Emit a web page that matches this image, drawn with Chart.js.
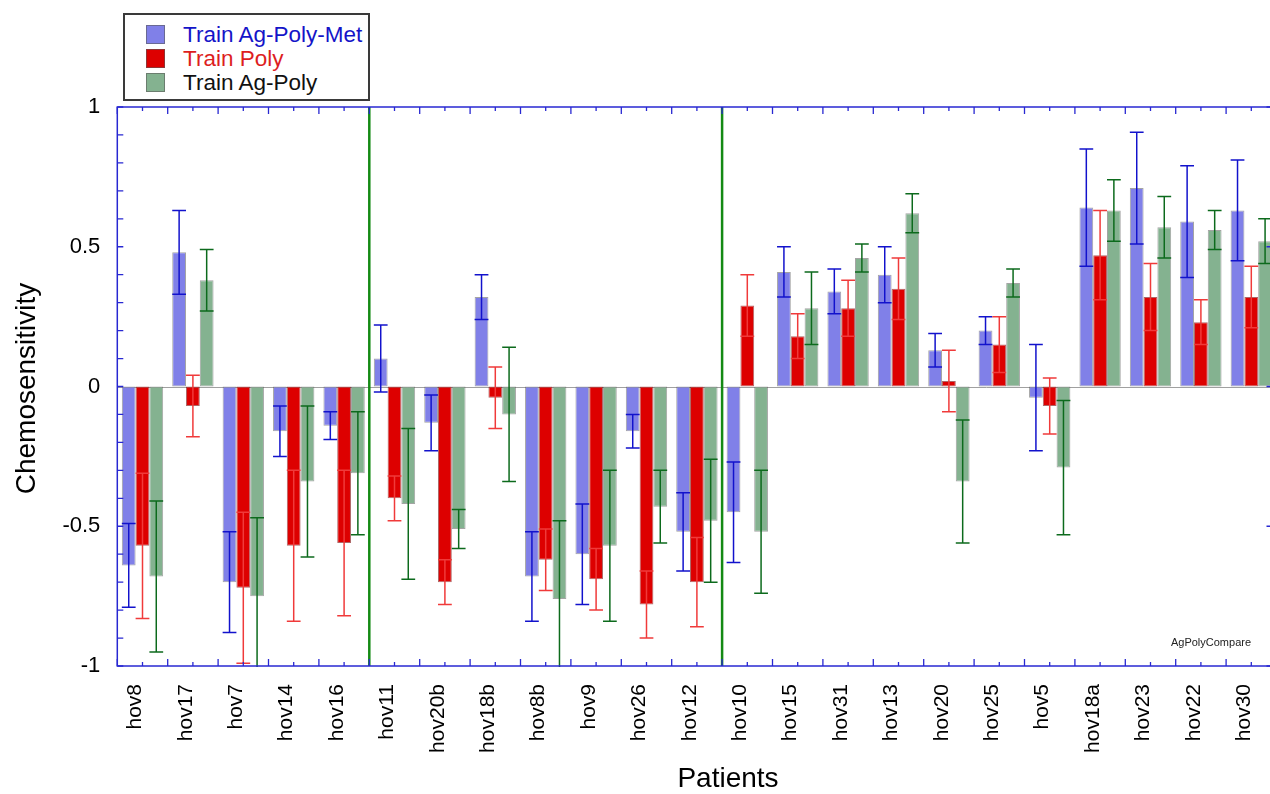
<!DOCTYPE html>
<html>
<head>
<meta charset="utf-8">
<title>Chemosensitivity by patient</title>
<script src="https://cdn.jsdelivr.net/npm/chart.js@4/dist/chart.umd.min.js"></script>
<style>
  html, body { margin: 0; padding: 0; background: #fff; overflow: hidden; }
  #wrap { position: relative; width: 1270px; height: 794px; overflow: hidden; }
  #c { position: absolute; left: 0; top: 0; }
  #legend {
    position: absolute; left: 123px; top: 13px; width: 243px; height: 84px;
    border: 2px solid #3a3a3a; background: #fff;
    font-family: "Liberation Sans", Arial, sans-serif; font-size: 22.5px;
  }
  .item { position: absolute; left: 21px; height: 24px; line-height: 24px; white-space: nowrap; }
  .sw { position: absolute; left: 0; top: 2px; width: 19px; height: 19px; box-sizing: border-box; border: 1px solid rgba(90,90,90,0.6); }
  .lbl { position: absolute; left: 37px; top: 0; }
</style>
</head>
<body>
<div id="wrap">
  <canvas id="c" width="1282" height="794"></canvas>
  <div id="legend">
    <div class="item" style="top:8px"><span class="sw" style="background:#8080e8"></span><span class="lbl" style="color:#1414c8">Train Ag-Poly-Met</span></div>
    <div class="item" style="top:32px"><span class="sw" style="background:#dd0000"></span><span class="lbl" style="color:#dd1e1e">Train Poly</span></div>
    <div class="item" style="top:56px"><span class="sw" style="background:#84b290"></span><span class="lbl" style="color:#111">Train Ag-Poly</span></div>
  </div>
</div>
<script>
// Patients, in plotting order
const patients = ['hov8','hov17','hov7','hov14','hov16','hov11','hov20b','hov18b','hov8b','hov9','hov26','hov12',
                  'hov10','hov15','hov31','hov13','hov20','hov25','hov5','hov18a','hov23','hov22','hov30'];

// Mean chemosensitivity and error per training set
const agPolyMet    = [-0.64, 0.48, -0.70, -0.16, -0.14, 0.10, -0.13, 0.32, -0.68, -0.60, -0.16, -0.52,
                      -0.45, 0.41, 0.34, 0.40, 0.13, 0.20, -0.04, 0.64, 0.71, 0.59, 0.63];
const agPolyMetErr = [0.15, 0.15, 0.18, 0.09, 0.05, 0.12, 0.10, 0.08, 0.16, 0.18, 0.06, 0.14,
                      0.18, 0.09, 0.08, 0.10, 0.06, 0.05, 0.19, 0.21, 0.20, 0.20, 0.18];

const poly         = [-0.57, -0.07, -0.72, -0.57, -0.56, -0.40, -0.70, -0.04, -0.62, -0.69, -0.78, -0.70,
                      0.29, 0.18, 0.28, 0.35, 0.02, 0.15, -0.07, 0.47, 0.32, 0.23, 0.32];
const polyErr      = [0.26, 0.11, 0.27, 0.27, 0.26, 0.08, 0.08, 0.11, 0.11, 0.11, 0.12, 0.16,
                      0.11, 0.08, 0.10, 0.11, 0.11, 0.10, 0.10, 0.16, 0.12, 0.08, 0.11];

const agPoly       = [-0.68, 0.38, -0.75, -0.34, -0.31, -0.42, -0.51, -0.10, -0.76, -0.57, -0.43, -0.48,
                      -0.52, 0.28, 0.46, 0.62, -0.34, 0.37, -0.29, 0.63, 0.57, 0.56, 0.52];
const agPolyErr    = [0.27, 0.11, 0.28, 0.27, 0.22, 0.27, 0.07, 0.24, 0.28, 0.27, 0.13, 0.22,
                      0.22, 0.13, 0.05, 0.07, 0.22, 0.05, 0.24, 0.11, 0.11, 0.07, 0.08];

// Group separators (index of the first patient after each divider)
const dividers = [5, 12];

const yTicks = [-1, -0.5, 0, 0.5, 1];

const FONT = '"Liberation Sans", Arial, sans-serif';
const AXIS_BLUE = '#2828d2';

const errorSets = [
  { err: agPolyMetErr, color: '#1212cc' },
  { err: polyErr,      color: '#f03a3a' },
  { err: agPolyErr,    color: '#0c6a1c' }
];

// Zero line behind the bars
const zeroLine = {
  id: 'zeroLine',
  beforeDatasetsDraw(chart) {
    const { ctx, chartArea: a, scales: { y } } = chart;
    const y0 = Math.round(y.getPixelForValue(0)) + 0.5;
    ctx.save();
    ctx.strokeStyle = '#a0a0a0';
    ctx.lineWidth = 1;
    ctx.beginPath();
    ctx.moveTo(a.left, y0);
    ctx.lineTo(a.right, y0);
    ctx.stroke();
    ctx.restore();
  }
};

// Error bars with caps, one per bar
const errorBars = {
  id: 'errorBars',
  afterDatasetsDraw(chart) {
    const { ctx, chartArea: a, scales: { y } } = chart;
    ctx.save();
    ctx.beginPath();
    ctx.rect(a.left, a.top - 1, a.right - a.left, a.bottom - a.top + 2);
    ctx.clip();
    chart.data.datasets.forEach((ds, i) => {
      const meta = chart.getDatasetMeta(i);
      const set = errorSets[i];
      ctx.strokeStyle = set.color;
      ctx.lineWidth = 1.5;
      meta.data.forEach((bar, j) => {
        const v = ds.data[j], e = set.err[j];
        const yHi = y.getPixelForValue(v + e);
        const yLo = y.getPixelForValue(v - e);
        const half = bar.width / 2;
        ctx.beginPath();
        ctx.moveTo(bar.x, yHi);
        ctx.lineTo(bar.x, yLo);
        ctx.moveTo(bar.x - half, yHi);
        ctx.lineTo(bar.x + half, yHi);
        ctx.moveTo(bar.x - half, yLo);
        ctx.lineTo(bar.x + half, yLo);
        ctx.stroke();
      });
    });
    ctx.restore();
  }
};

// Frame, inward ticks, group dividers, titles and the figure tag
const frame = {
  id: 'frame',
  afterDraw(chart) {
    const { ctx, chartArea: a, scales: { x, y } } = chart;
    const n = patients.length;
    const catW = (a.right - a.left) / n;
    ctx.save();

    // group dividers
    ctx.strokeStyle = '#148a14';
    ctx.lineWidth = 2.5;
    dividers.forEach(k => {
      const xx = a.left + k * catW;
      ctx.beginPath();
      ctx.moveTo(xx, a.top);
      ctx.lineTo(xx, a.bottom);
      ctx.stroke();
    });

    // axis box
    ctx.strokeStyle = AXIS_BLUE;
    ctx.lineWidth = 1.5;
    ctx.strokeRect(a.left, a.top, a.right - a.left, a.bottom - a.top);

    // vertical-axis ticks every 0.1
    ctx.lineWidth = 1.3;
    ctx.beginPath();
    for (let t = -10; t <= 10; t++) {
      const yy = y.getPixelForValue(t / 10);
      ctx.moveTo(a.left, yy); ctx.lineTo(a.left + 6, yy);
      const len = (t % 5 === 0) ? 10 : 5;
      ctx.moveTo(a.right, yy); ctx.lineTo(a.right - len, yy);
    }
    // horizontal-axis ticks every half category
    for (let k = 0; k <= 2 * n; k++) {
      const xx = a.left + k * catW / 2;
      const len = (k % 2 === 0) ? 7 : 4;
      ctx.moveTo(xx, a.top); ctx.lineTo(xx, a.top + len);
      ctx.moveTo(xx, a.bottom); ctx.lineTo(xx, a.bottom - len);
    }
    ctx.stroke();

    // axis titles
    ctx.fillStyle = '#000';
    ctx.textAlign = 'center';
    ctx.textBaseline = 'middle';
    ctx.font = '28px ' + FONT;
    ctx.fillText('Patients', 728, 779);
    ctx.save();
    ctx.translate(27, (a.top + a.bottom) / 2 + 2);
    ctx.rotate(-Math.PI / 2);
    ctx.fillText('Chemosensitivity', 0, 0);
    ctx.restore();

    // figure tag
    ctx.font = '11px ' + FONT;
    ctx.fillStyle = '#222';
    ctx.fillText('AgPolyCompare', 1211, 643);
    ctx.restore();
  }
};

const barBorder = 'rgba(90,90,90,0.55)';

new Chart(document.getElementById('c'), {
  type: 'bar',
  data: {
    labels: patients,
    datasets: [
      { label: 'Train Ag-Poly-Met', data: agPolyMet, backgroundColor: '#8080e8', borderColor: barBorder },
      { label: 'Train Poly',        data: poly,      backgroundColor: '#dd0000', borderColor: 'rgba(120,0,0,0.6)' },
      { label: 'Train Ag-Poly',     data: agPoly,    backgroundColor: '#84b290', borderColor: barBorder }
    ]
  },
  options: {
    responsive: false,
    animation: false,
    devicePixelRatio: 1,
    datasets: {
      bar: { categoryPercentage: 0.82, barPercentage: 1.0, borderWidth: 1, borderSkipped: false }
    },
    layout: { padding: { left: 0, top: 107, right: 5.5, bottom: 0 } },
    plugins: { legend: { display: false }, tooltip: { enabled: false } },
    scales: {
      x: {
        grid: { display: false, drawTicks: false },
        border: { display: false },
        ticks: {
          autoSkip: false, maxRotation: 90, minRotation: 90, padding: 18, labelOffset: -7,
          color: '#000', font: { family: FONT, size: 21 }
        },
        afterFit(scale) {
          scale.height = 128;
          scale.paddingLeft = 0;
          scale.paddingRight = 0;
        }
      },
      y: {
        min: -1, max: 1,
        grid: { display: false, drawTicks: false },
        border: { display: false },
        afterBuildTicks(scale) { scale.ticks = yTicks.map(v => ({ value: v })); },
        ticks: {
          padding: 17, color: '#000', font: { family: FONT, size: 22 },
          callback: v => String(v)
        },
        afterFit(scale) {
          scale.width = 117.3;
          scale.paddingTop = 0;
          scale.paddingBottom = 0;
        }
      }
    }
  },
  plugins: [zeroLine, errorBars, frame]
});
</script>
</body>
</html>
